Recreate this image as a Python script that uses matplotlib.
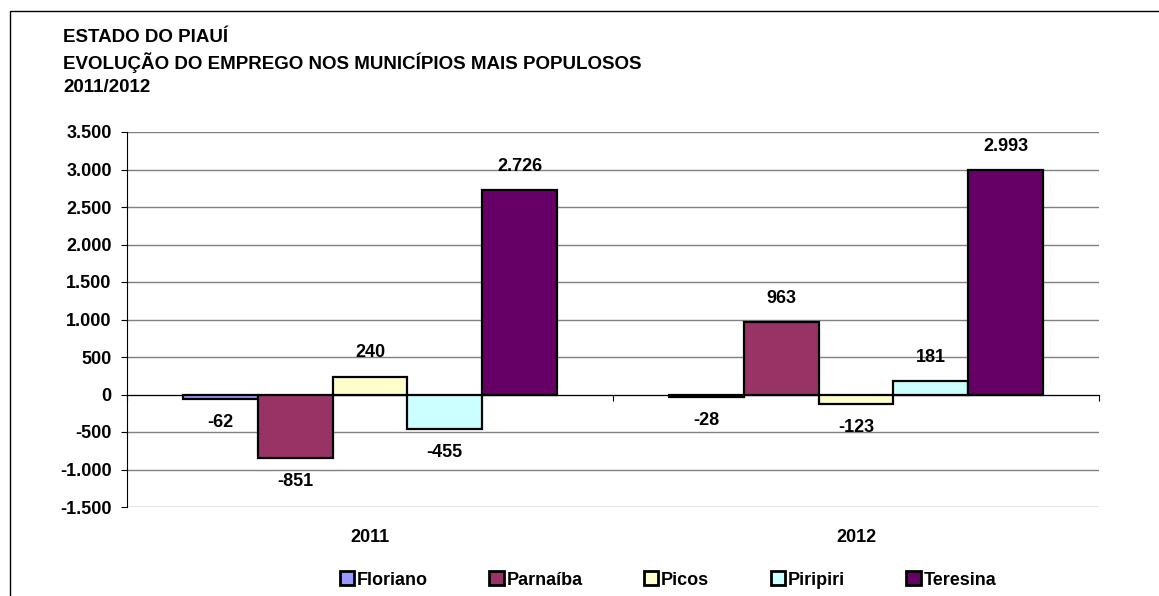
import numpy as np
import matplotlib
matplotlib.use('Agg')
import matplotlib.pyplot as plt
from matplotlib.patches import Rectangle
from matplotlib.ticker import FuncFormatter

plt.rcParams['font.family'] = ['Liberation Sans', 'DejaVu Sans']
plt.rcParams['font.weight'] = 'bold'

# employment balance per municipality
years = ['2011', '2012']
cities = ['Floriano', 'Parnaíba', 'Picos', 'Piripiri', 'Teresina']
floriano = [-62, -28]
parnaiba = [-851, 963]
picos = [240, -123]
piripiri = [-455, 181]
teresina = [2726, 2993]
colors = ['#9999FF', '#993366', '#FFFFCC', '#CCFFFF', '#660066']

title_lines = ['ESTADO DO PIAUÍ',
               'EVOLUÇÃO DO EMPREGO NOS MUNICÍPIOS MAIS POPULOSOS',
               '2011/2012']


def fmt(v):
    # portuguese thousands separator
    return f"{int(v):,}".replace(',', '.')


fig = plt.figure(figsize=(11.59, 5.96), dpi=100)
fig.patches.append(Rectangle((10 / 1159, -0.1), 1.2, 1 - 11 / 596 + 0.1,
                             transform=fig.transFigure, fill=False,
                             edgecolor='black', linewidth=1.0))

ax = fig.add_axes([127 / 1159, 1 - 507 / 596, 972 / 1159, 375 / 596])

series = [floriano, parnaiba, picos, piripiri, teresina]
x = np.arange(len(years))
w = 1 / 6.5
for i, (name, vals, c) in enumerate(zip(cities, series, colors)):
    pos = x + (i - 2) * w
    ax.bar(pos, vals, width=w, color=c, edgecolor='black', linewidth=1.6,
           label=name, zorder=3)
    for px, v in zip(pos, vals):
        off = 17 if v > 0 else -17
        ax.annotate(fmt(v), (px, v), xytext=(0, off), textcoords='offset points',
                    ha='center', va='center', fontsize=13, fontweight='bold',
                    zorder=4)

ax.set_xlim(-0.5, 1.5)
ax.set_ylim(-1500, 3500)
ax.set_yticks(np.arange(-1500, 3501, 500))
ax.yaxis.set_major_formatter(FuncFormatter(lambda v, p: fmt(v)))
ax.tick_params(axis='y', direction='out', length=4, width=0.8, labelsize=13,
               pad=7)
ax.grid(axis='y', color='#808080', linewidth=1.0, zorder=0)
ax.set_axisbelow(True)

# category axis sits on zero
ax.spines['top'].set_visible(False)
ax.spines['right'].set_visible(False)
ax.spines['bottom'].set_position(('data', 0))
ax.spines['bottom'].set_zorder(2)
ax.spines['left'].set_linewidth(0.8)
ax.set_xticks([-0.5, 0.5, 1.5])
ax.set_xticklabels([])
ax.tick_params(axis='x', direction='out', length=4, width=0.8)

for xi, yr in zip(x, years):
    ax.text(xi, -0.08, yr, transform=ax.get_xaxis_transform(), ha='center',
            va='center', fontsize=13, fontweight='bold')

for k, line in enumerate(title_lines):
    fig.text(63 / 1159, 1 - (38 + 24.5 * k) / 596, line, ha='left',
             va='center', fontsize=13.5, fontweight='bold')

leg = fig.legend(loc='center', bbox_to_anchor=(668 / 1159, 1 - 580 / 596),
                 ncol=5, frameon=False, fontsize=13, handlelength=0.8,
                 handleheight=0.8, handletextpad=0.15, columnspacing=3.4)
for h in leg.legend_handles:
    h.set_linewidth(2.0)

fig.savefig('out.png', dpi=100)
